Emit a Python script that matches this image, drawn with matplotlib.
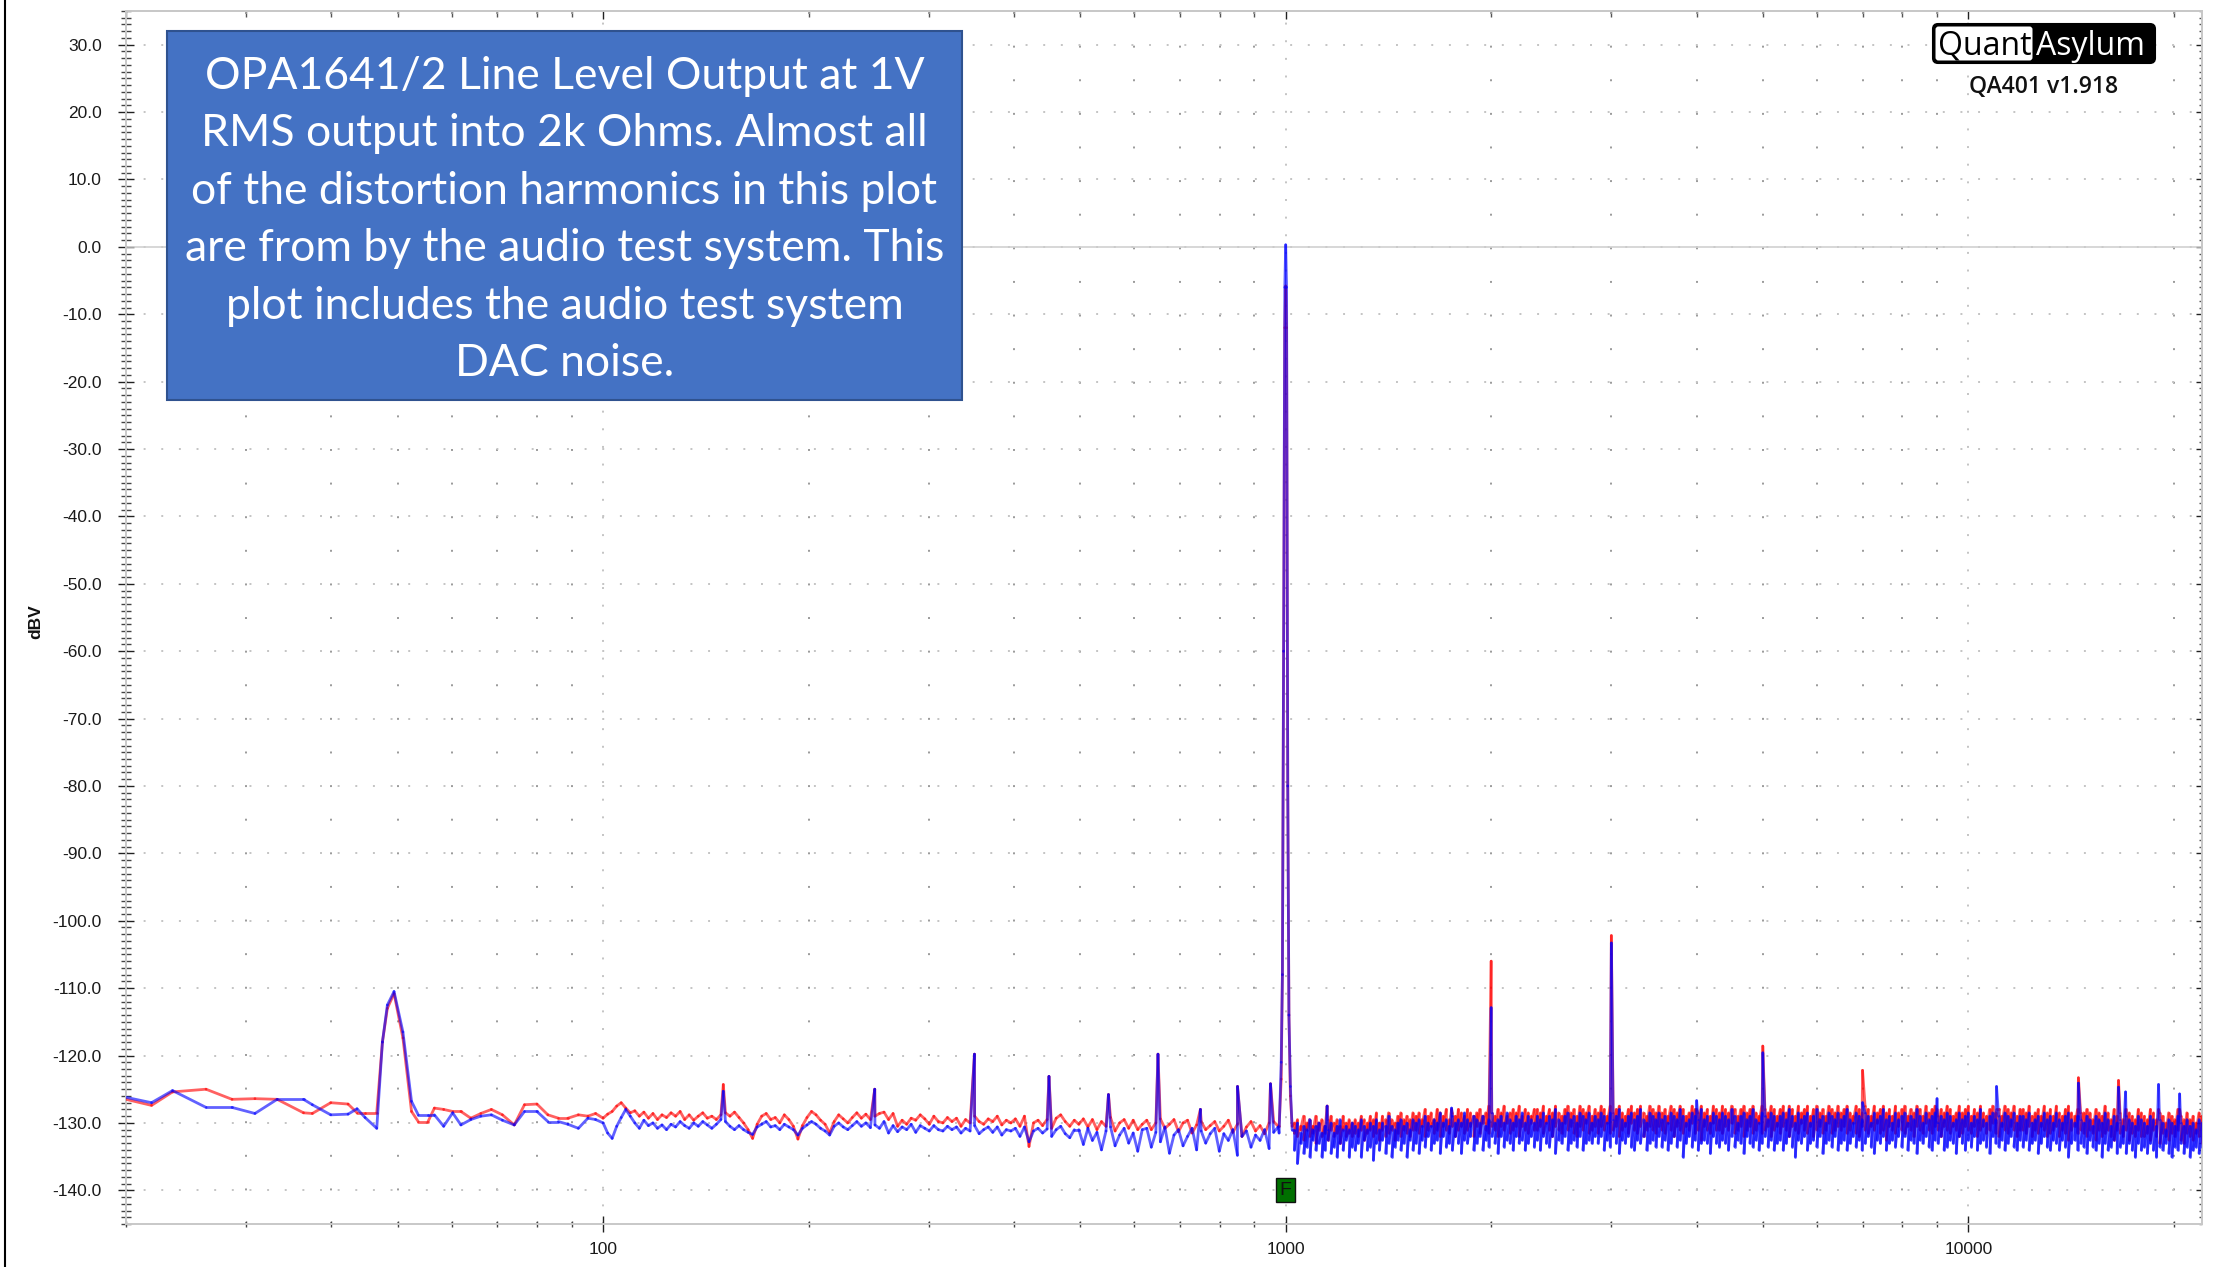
import numpy as np
import matplotlib
matplotlib.use("Agg")
import matplotlib.pyplot as plt
from matplotlib.collections import LineCollection
from matplotlib.patches import Rectangle, FancyBboxPatch
from matplotlib.lines import Line2D
from matplotlib.transforms import IdentityTransform
from matplotlib.ticker import FixedLocator, MultipleLocator, NullFormatter, FuncFormatter

plt.rcParams['axes.unicode_minus'] = False
plt.rcParams['lines.scale_dashes'] = False
plt.rcParams['font.family'] = ['Liberation Sans', 'DejaVu Sans']

# ---- data (dBV vs Hz) ----
# low end, 20 Hz .. 100 Hz incl. the 50 Hz hum hump
lf_freq = [20.0, 21.8, 23.4, 26.2, 28.6, 30.9, 33.3, 36.4, 37.5, 39.9,
           42.3, 43.6, 44.8, 46.6, 47.5, 48.3, 49.4, 50.9, 52.4, 53.6,
           55.4, 56.6, 58.4, 60.2, 61.9, 64.0, 66.2, 68.6, 71.2, 74.1,
           76.7, 80.0, 83.0, 86.0, 88.8, 92.0, 95.0, 97.5]
lf_red = [-126.5, -127.4, -125.4, -125.0, -126.5, -126.4, -126.5, -128.5, -128.6, -127.0,
          -127.2, -128.5, -128.5, -128.5, -118.0, -113.0, -110.8, -117.4, -128.3, -129.8,
          -129.8, -127.8, -128.0, -128.3, -128.3, -129.3, -128.6, -128.0, -128.8, -130.3,
          -127.3, -127.2, -128.8, -129.3, -129.3, -128.8, -129.0, -128.6]
lf_blue = [-126.2, -127.0, -125.2, -127.7, -127.7, -128.6, -126.5, -126.5, -127.3, -128.8,
           -128.7, -127.9, -129.2, -130.8, -118.0, -112.5, -110.5, -116.5, -126.8, -128.8,
           -128.8, -128.8, -130.5, -128.5, -130.3, -129.5, -129.0, -128.8, -129.6, -130.3,
           -128.3, -128.3, -129.8, -129.8, -130.2, -130.8, -129.3, -129.5]

# 100 Hz .. 975 Hz noise floor (log spaced readings)
mid_range = (100, 975)
mid_red = [
    -129.3, -128.7, -128.3, -127.5, -127.0, -127.8, -128.5, -128.2, -129.0, -128.4, -129.3, -128.6, -129.5, -128.8, -129.2,
    -128.5, -129.0, -128.3, -129.5, -128.8, -129.6, -129.0, -128.5, -129.3, -129.0, -129.5, -128.8, -128.5, -129.0, -128.4,
    -129.2, -130.0, -131.0, -132.3, -130.2, -129.0, -128.6, -129.5, -129.2, -130.0, -128.8, -129.5, -130.5, -132.4, -130.4,
    -129.2, -128.3, -128.8, -129.6, -130.2, -131.5, -129.8, -128.8, -129.4, -130.0, -129.2, -128.5, -129.3, -128.7, -129.5,
    -129.0, -128.6, -128.4, -129.5, -128.6, -130.5, -129.6, -130.2, -129.3, -129.6, -128.8, -129.4, -130.2, -129.0, -129.8,
    -130.0, -129.2, -129.8, -129.3, -130.5, -129.5, -130.0, -129.0, -129.8, -130.2, -129.4, -129.8, -129.0, -130.3, -129.6,
    -130.0, -129.4, -130.5, -129.0, -133.5, -130.0, -129.6, -130.4, -129.5, -130.8, -129.3, -128.8, -129.8, -130.5, -129.6,
    -130.2, -129.4, -130.6, -129.5, -131.0, -129.8, -130.5, -129.2, -131.2, -130.0, -129.5, -130.8, -129.6, -131.0, -130.2,
    -129.6, -131.0, -130.0, -129.4, -130.8, -130.2, -129.5, -131.3, -130.0, -129.6, -131.5, -130.3, -129.8, -131.0, -130.4,
    -129.8, -131.2, -130.5, -129.6, -131.4, -130.2, -132.0, -130.6, -129.8, -131.2, -130.4, -131.6, -130.0, -129.8, -130.5]
mid_blue = [
    -130.0, -131.5, -132.3, -130.5, -129.2, -128.0, -129.0, -130.0, -130.8, -129.6, -130.4, -130.0, -130.8, -130.3, -131.0,
    -130.2, -130.6, -129.8, -130.4, -130.8, -130.0, -130.5, -129.8, -130.3, -130.8, -130.2, -129.5, -129.8, -130.5, -131.0,
    -130.4, -131.0, -131.4, -131.7, -130.6, -130.2, -129.8, -130.6, -130.4, -131.0, -130.2, -130.6, -131.0, -131.8, -130.8,
    -130.3, -129.8, -130.2, -130.8, -131.2, -131.8, -130.5, -130.0, -130.6, -131.0, -130.4, -129.8, -130.5, -130.0, -130.7,
    -130.3, -130.8, -129.8, -131.5, -130.4, -131.3, -130.6, -131.0, -130.2, -131.4, -130.4, -130.8, -131.2, -130.4, -131.0,
    -131.2, -130.5, -131.0, -130.6, -131.5, -130.8, -131.2, -130.4, -131.6, -131.0, -130.6, -131.4, -130.6, -131.8, -131.0,
    -131.2, -130.8, -132.0, -130.6, -132.8, -131.2, -130.8, -131.5, -130.9, -132.0, -131.0, -130.5, -131.6, -132.2, -131.0,
    -131.0, -133.2, -130.8, -132.6, -131.4, -134.0, -131.2, -130.6, -133.4, -131.8, -130.8, -133.0, -131.5, -134.2, -131.0,
    -130.8, -133.6, -131.4, -132.8, -130.6, -134.5, -131.8, -131.0, -133.4, -132.0, -130.8, -134.0, -131.2, -133.0, -131.6,
    -130.8, -134.2, -131.6, -132.6, -131.0, -134.8, -132.0, -131.2, -133.6, -131.8, -132.6, -131.0, -133.8, -131.4, -130.6]

# 1 kHz fundamental and its skirt
fund_freq = [978, 985, 989, 993, 997, 1000, 1003, 1007, 1011, 1016, 1022]
fund_red = [-130.5, -123.5, -108.0, -60.0, -12.0, -5.8, -12.0, -80.0, -114.0, -126.0, -130.5]
fund_blue = [-131.5, -121.0, -108.0, -60.0, -6.0, 0.3, -6.0, -80.0, -114.0, -124.6, -131.0]

# 1.03 kHz .. 22 kHz: the dense floor, as upper / lower value per display column
hi_range = (1030, 22000)
hi_red_top = [
    -130, -129.5, -130.5, -129, -130, -129.5, -130.5, -129, -130, -129.5, -130.5, -129.5, -129, -130, -129.5, -130.5, -129, -130, -129.5, -130,
    -129.5, -130, -129, -129.5, -130, -129, -129.5, -128.5, -130, -129, -129.5, -128.5, -129.5, -130, -129, -128.5, -129.5, -129, -129.5, -128.5,
    -129, -128.5, -129.5, -128, -129, -128.5, -129.5, -128, -128.5, -129, -128, -129.5, -128.5, -129, -128, -128.5, -129, -128, -128.5, -129,
    -128.5, -128, -129, -128.5, -127.5, -128.5, -129, -128, -128.5, -127.5, -129, -128.5, -128, -128.5, -127.5, -129, -128, -128.5, -129, -128,
    -128, -128.5, -127.5, -129, -128, -128.5, -127.5, -128.5, -129, -128, -127.5, -128.5, -128, -129, -127.5, -128, -128.5, -127.5, -129, -128,
    -128.5, -127.5, -128, -129, -127.5, -128.5, -128, -127.5, -128.5, -129, -128, -127.5, -128.5, -128, -127.5, -128.5, -129, -127.5, -128, -128.5,
    -127.5, -128.5, -128, -129, -127.5, -128, -128.5, -127.5, -128, -129, -128.5, -127.5, -128, -128.5, -127.5, -128.5, -128, -129, -127.5, -128,
    -128.5, -127.5, -128, -128.5, -127.5, -128, -129, -128, -127.5, -128.5, -128, -127.5, -128.5, -129, -127.5, -128, -128.5, -127.5, -128, -129,
    -128, -127.5, -128.5, -127.5, -128, -129, -127.5, -128.5, -128, -127.5, -129, -128, -127.5, -128.5, -128, -129, -127.5, -128, -128.5, -127.5,
    -128.5, -128, -127.5, -128.5, -129, -127.5, -128, -128.5, -127.5, -128, -129, -127.5, -128.5, -128, -127.5, -128.5, -128, -129, -127.5, -128.5,
    -128, -127.5, -129, -128, -128.5, -127.5, -128, -129, -127.5, -128.5, -128, -127.5, -129, -128, -128.5, -127.5, -128, -129, -128.5, -127.5,
    -128.5, -128, -127.5, -129, -128, -128.5, -127.5, -128.5, -129, -128, -127.5, -128.5, -128, -129, -127.5, -128, -128.5, -127.5, -129, -128,
    -128, -128.5, -127.5, -129, -128.5, -128, -129, -127.5, -128.5, -128, -129, -127.5, -128.5, -129, -128, -127.5, -128.5, -129, -128, -128.5,
    -128.5, -128, -128.5, -129.5, -128, -128.5, -129, -127.5, -128.5, -129.5, -128, -129, -128.5, -129.5, -128, -128.5, -129, -129.5, -128, -128.5,
    -129, -129.5, -128, -128.5, -129.5, -128.5, -129, -130, -128.5, -129, -129.5, -128, -129, -129.5, -128.5, -129.5, -129, -130, -128.5, -129]
hi_red_bot = [
    -131.5, -132, -131, -132.5, -131, -132, -131.5, -133, -131, -132, -131.5, -132.5, -131, -132, -131.5, -133, -131, -132, -131.5, -132,
    -131.5, -132, -131, -132.5, -131.5, -131, -132, -131.5, -132.5, -131, -132, -131.5, -131, -132.5, -131.5, -132, -131, -131.5, -132, -131,
    -131, -131.5, -130.5, -132, -131, -130.5, -131.5, -131, -132, -130.5, -131, -131.5, -130.5, -132, -131, -130.5, -131.5, -131, -130.5, -132,
    -130.5, -131.5, -130, -131, -131.5, -130.5, -131, -132, -130.5, -131, -130, -131.5, -131, -130.5, -132, -130.5, -131, -131.5, -130, -131,
    -131, -130.5, -131.5, -130, -131, -132, -130.5, -131, -131.5, -130, -131, -130.5, -131.5, -132, -130.5, -131, -130, -131.5, -131, -130.5,
    -131.5, -130.5, -131, -130, -131.5, -131, -130.5, -132, -131, -130.5, -131.5, -130, -131, -131.5, -130.5, -132, -131, -130.5, -131, -131.5,
    -130.5, -131, -131.5, -130, -131, -132, -130.5, -131, -131.5, -130.5, -131, -130, -131.5, -131, -132.5, -130.5, -131, -131.5, -130, -131,
    -131, -131.5, -130.5, -131, -130, -131.5, -131, -130.5, -132, -131, -130.5, -131.5, -131, -130, -131.5, -131, -130.5, -132, -131, -130.5,
    -131.5, -130.5, -131, -132, -130.5, -131, -131.5, -130, -131, -131.5, -130.5, -132, -131, -130.5, -131.5, -131, -130, -131.5, -131, -130.5,
    -131, -130.5, -131.5, -131, -130, -131.5, -132, -130.5, -131, -131.5, -130.5, -131, -130, -131.5, -131, -132.5, -130.5, -131, -131.5, -130.5,
    -131, -131.5, -130.5, -131, -132, -130.5, -131, -131.5, -130, -131, -131.5, -130.5, -131, -132, -130.5, -131, -131.5, -130.5, -131, -132,
    -131.5, -130.5, -131, -131.5, -130.5, -132, -131, -130.5, -131.5, -131, -130, -131.5, -132, -130.5, -131, -131.5, -130.5, -131, -132, -131,
    -131, -131.5, -130.5, -132, -131, -131.5, -130.5, -131, -132, -131.5, -131, -130.5, -132, -131, -131.5, -132.5, -131, -130.5, -131.5, -131,
    -131.5, -132, -131, -131.5, -132.5, -131, -132, -131.5, -131, -132, -132.5, -131, -131.5, -132, -131, -132.5, -131.5, -132, -131, -132,
    -132, -131.5, -132.5, -131, -132, -133, -131.5, -132, -132.5, -131.5, -132, -131, -132.5, -133, -131.5, -132, -132.5, -131.5, -132, -133]
hi_blue_top = [
    -131, -130, -131.5, -130.5, -131, -129.5, -131, -130.5, -130, -131.5, -130.5, -131, -130, -131.5, -130.5, -129.5, -131, -130.5, -131, -130,
    -130.5, -131, -129.5, -130.5, -131, -130, -130.5, -129.5, -131, -130, -130.5, -129, -130.5, -131, -130, -129.5, -130.5, -130, -131, -129.5,
    -130, -129.5, -130.5, -129, -130, -130.5, -129.5, -130, -128.5, -130, -129.5, -130.5, -129, -130, -129.5, -130, -128.5, -129.5, -130, -129,
    -129.5, -130, -129, -130.5, -129.5, -128.5, -130, -129.5, -129, -130, -128.5, -129.5, -130, -129, -129.5, -128.5, -130, -129, -129.5, -130,
    -129, -129.5, -128.5, -130, -129, -129.5, -128, -129.5, -130, -129, -128.5, -129.5, -129, -130, -128.5, -129, -129.5, -128.5, -130, -129,
    -129.5, -128.5, -129, -130, -128.5, -129.5, -129, -128, -129.5, -130, -129, -128.5, -129.5, -129, -128, -129.5, -130, -128.5, -129, -129.5,
    -128.5, -129.5, -129, -130, -128.5, -129, -129.5, -128, -129, -130, -129.5, -128.5, -129, -129.5, -128, -129.5, -129, -130, -128.5, -129,
    -129.5, -128.5, -129, -129.5, -128, -129, -130, -129, -128.5, -129.5, -129, -128, -129.5, -130, -128.5, -129, -129.5, -128.5, -129, -130,
    -129, -128.5, -129.5, -128, -129, -130, -128.5, -129.5, -129, -128.5, -130, -129, -128, -129.5, -129, -130, -128.5, -129, -129.5, -128.5,
    -129.5, -129, -128, -129.5, -130, -128.5, -129, -129.5, -128.5, -129, -130, -128.5, -129.5, -129, -128, -129.5, -129, -130, -128.5, -129.5,
    -129, -128.5, -130, -129, -129.5, -128, -129, -130, -128.5, -129.5, -129, -128.5, -130, -129, -129.5, -128.5, -129, -130, -129.5, -128.5,
    -129.5, -129, -128.5, -130, -129, -129.5, -128, -129.5, -130, -129, -128.5, -129.5, -129, -130, -128.5, -129, -129.5, -128.5, -130, -129,
    -129, -129.5, -128.5, -130, -129.5, -129, -130, -128.5, -129.5, -129, -130, -128.5, -129.5, -130, -129, -128.5, -129.5, -130, -129, -129.5,
    -130, -129, -129.5, -130.5, -129, -129.5, -130, -128.5, -129.5, -130.5, -129, -130, -129.5, -130.5, -129, -129.5, -130, -130.5, -129, -129.5,
    -130, -130.5, -129, -129.5, -130.5, -129.5, -130, -131, -129.5, -130, -130.5, -129, -130, -130.5, -129.5, -130.5, -130, -131, -129.5, -130]
hi_blue_bot = [
    -134, -136, -133, -134.5, -133.5, -135, -132.5, -134, -133, -135, -134, -132.5, -134.5, -133.5, -135, -133, -134, -132.5, -135, -133.5,
    -134, -133, -135, -132.5, -134, -133.5, -135.5, -133, -134, -132.5, -134.5, -133, -135, -133.5, -132.5, -134, -133, -135, -132.5, -134,
    -133, -134.5, -132.5, -133.5, -132, -134, -133, -132.5, -134.5, -132, -133.5, -133, -134, -132, -133, -134.5, -132.5, -133, -132, -134,
    -133, -132, -134, -132.5, -133.5, -132, -133, -134.5, -132, -133.5, -132.5, -133, -134, -132, -133, -132.5, -134, -133, -132, -133.5,
    -132.5, -134, -132, -133, -133.5, -132, -134.5, -132.5, -133, -132, -134, -133, -132.5, -133.5, -132, -134, -133, -132.5, -133, -132,
    -133, -132, -134, -132.5, -133.5, -132, -133, -134.5, -132.5, -133, -132, -133.5, -134, -132.5, -133, -132, -134, -133, -132.5, -133.5,
    -132, -133.5, -132.5, -134, -133, -132, -133.5, -132.5, -135, -133, -132, -133.5, -132.5, -134, -133, -132.5, -133, -134.5, -132, -133,
    -133.5, -132.5, -133, -134, -132, -133.5, -132.5, -133, -134.5, -132, -133, -133.5, -132.5, -134, -133, -132, -133.5, -132.5, -134, -133,
    -132.5, -134, -133, -132, -133.5, -135, -132.5, -133, -132, -134, -133, -132.5, -133.5, -132, -134.5, -133, -132.5, -133.5, -132, -134,
    -133, -132.5, -134, -133, -132, -133.5, -132.5, -134, -133, -132, -133.5, -134.5, -132.5, -133, -132, -134, -133, -132.5, -133.5, -132,
    -133.5, -132, -134, -132.5, -133, -134.5, -132.5, -133, -132, -133.5, -134, -132.5, -133, -132, -134, -133.5, -132.5, -133, -134.5, -132,
    -133, -134, -132.5, -133.5, -132, -134, -133, -132.5, -133.5, -134.5, -132, -133, -133.5, -132.5, -134, -133, -132, -133.5, -134, -132.5,
    -133.5, -132.5, -134, -133, -132.5, -134.5, -133, -132, -133.5, -134, -132.5, -133, -134, -132.5, -133.5, -135, -133, -132.5, -134, -133,
    -133.5, -134.5, -132.5, -133.5, -134, -133, -135, -133, -134, -133.5, -132.5, -134.5, -133.5, -133, -134.5, -133, -134, -135, -133, -134,
    -133.5, -134.5, -133, -134, -135, -133.5, -134, -133, -134.5, -135, -133.5, -134, -133, -134.5, -133.5, -135, -134, -133.5, -134.5, -133.5]

# hum / harmonic spurs (peak levels)
spike_freq = [150, 250, 350, 450, 550, 650, 750, 850, 950, 1150, 1750, 2000,
              3000, 4000, 5000, 7000, 9000, 11000, 14500, 16600, 17000, 19000, 20400]
spike_red = [-124.3, -125.0, -119.8, -123.1, -125.8, -119.8, -128.0, -124.6, -124.2, -127.5, -128.0, -106.0,
             -102.2, -128.0, -118.6, -122.2, -128.0, -128.0, -123.3, -123.7, -128.0, -128.0, -128.0]
spike_blue = [-125.3, -125.0, -119.8, -123.1, -125.8, -119.8, -128.0, -124.6, -124.2, -127.5, -127.8, -112.9,
              -103.3, -126.7, -119.6, -127.0, -126.4, -124.6, -124.1, -124.7, -125.4, -124.3, -125.7]

box_lines = ["OPA1641/2 Line Level Output at 1V",
             "RMS output into 2k Ohms. Almost all",
             "of the distortion harmonics in this plot",
             "are from by the audio test system. This",
             "plot includes the audio test system",
             "DAC noise."]

W, H = 2216, 1267
fig = plt.figure(figsize=(W / 100, H / 100), dpi=100)
ax = fig.add_axes([126 / W, 1 - 1224 / H, 2076 / W, 1213 / H])
ax.set_xscale('log')
ax.set_xlim(20, 22000)
ax.set_ylim(-145, 35)


def trace(lf, mid, fund, top, bot, spikes, color):
    n = min(len(top), len(bot))
    hi_f = np.repeat(np.geomspace(hi_range[0], hi_range[1], n), 2)
    hi_v = np.column_stack([top[:n], bot[:n]]).ravel()
    f = np.concatenate([lf_freq,
                        np.geomspace(mid_range[0], mid_range[1], len(mid)),
                        fund_freq, hi_f, spike_freq])
    v = np.concatenate([lf, mid, fund, hi_v, spikes])
    o = np.argsort(f, kind='stable')
    pts = np.column_stack([f[o], v[o]])
    segs = np.stack([pts[:-1], pts[1:]], axis=1)
    lc = LineCollection(segs, colors=color, linewidths=2.0, alpha=0.62,
                        capstyle='round', zorder=3)
    ax.add_collection(lc)


trace(lf_red, mid_red, fund_red, hi_red_top, hi_red_bot, spike_red, '#ff0000')
trace(lf_blue, mid_blue, fund_blue, hi_blue_top, hi_blue_bot, spike_blue, '#0000ff')

# grid: dotted like the QA401 UI
dots = (0, (1.4, 11.3))
ax.grid(True, which='major', axis='both', color='#c4c4c4', lw=1.4, linestyle=dots)
ax.grid(True, which='minor', axis='x', color='#9a9a9a', lw=1.4, linestyle=(0, (1.4, 22.8)))
ax.set_axisbelow(True)
ax.axhline(0, color='#cdcdcd', lw=1.1, zorder=1)

minor_x = [m * d for d in (10, 100, 1000) for m in range(2, 10)] + [20000]
ax.xaxis.set_major_locator(FixedLocator([100, 1000, 10000]))
ax.xaxis.set_minor_locator(FixedLocator(minor_x))
ax.xaxis.set_major_formatter(FuncFormatter(lambda v, p: f"{v:.0f}"))
ax.xaxis.set_minor_formatter(NullFormatter())
ax.yaxis.set_major_locator(MultipleLocator(10))
ax.yaxis.set_minor_locator(MultipleLocator(1))
ax.yaxis.set_major_formatter(FuncFormatter(lambda v, p: f"{round(v, 1) + 0.0:.1f}"))

ax.tick_params(axis='y', which='major', direction='inout', length=11, width=1.0,
               color='#222222', pad=12, labelsize=12.5, labelcolor='#1a1a1a', right=False)
ax.tick_params(axis='y', which='minor', direction='inout', length=7, width=1.0,
               color='#444444', right=False)
ax.tick_params(axis='x', which='major', direction='inout', length=12, width=1.0,
               color='#222222', pad=7, labelsize=12.5, labelcolor='#1a1a1a', top=False)
ax.tick_params(axis='x', which='minor', direction='inout', length=5, width=1.0,
               color='#444444', top=False)
for s in ax.spines.values():
    s.set_color('#c8c8c8')
    s.set_linewidth(1.4)

secx = ax.secondary_xaxis('top')
secx.xaxis.set_major_locator(FixedLocator([100, 1000, 10000]))
secx.xaxis.set_minor_locator(FixedLocator(minor_x))
secx.xaxis.set_major_formatter(NullFormatter())
secx.xaxis.set_minor_formatter(NullFormatter())
secx.tick_params(which='major', direction='in', length=6, width=1.0, color='#222222')
secx.tick_params(which='minor', direction='in', length=4, width=1.0, color='#555555')
secy = ax.secondary_yaxis('right')
secy.yaxis.set_major_locator(MultipleLocator(10))
secy.yaxis.set_minor_locator(MultipleLocator(1))
secy.yaxis.set_major_formatter(NullFormatter())
secy.tick_params(which='major', direction='in', length=4, width=1.0, color='#222222')
secy.tick_params(which='minor', direction='in', length=2.5, width=1.0, color='#555555')
for sa in (secx, secy):
    for s in sa.spines.values():
        s.set_color('#c8c8c8')
        s.set_linewidth(1.4)

fig.text(36 / W, 1 - 622 / H, 'dBV', rotation=90, fontsize=12.5, fontweight='bold',
         ha='center', va='center', color='#111111')

# green marker on the fundamental
ax.text(1000, -140, 'F', ha='center', va='center', fontsize=14, color='#111111', zorder=5,
        bbox=dict(boxstyle='square,pad=0.18', fc='#007000', ec='#111111', lw=1))

# left screenshot border
fig.add_artist(Line2D([5 / W, 5 / W], [0, 1], color='black', lw=1.5, transform=fig.transFigure))

# annotation box
fig.add_artist(Rectangle((167 / W, 1 - 400 / H), 795 / W, 369 / H, transform=fig.transFigure,
                         fc='#4472C4', ec='#2F528F', lw=1.5, zorder=4))
for i, line in enumerate(box_lines):
    fig.text(564.5 / W, 1 - (89 + 57.4 * i) / H, line, ha='center', va='baseline',
             color='white', fontsize=32, family=['Lato', 'DejaVu Sans'], zorder=5)

# QuantAsylum logo
pix = IdentityTransform()
fig.add_artist(FancyBboxPatch((1933, H - 63), 222, 39, boxstyle='round,pad=0,rounding_size=5',
                              transform=pix, fc='black', ec='black', lw=1.5, zorder=4))
fig.add_artist(FancyBboxPatch((1935.5, H - 60.5), 97, 34, boxstyle='round,pad=0,rounding_size=3',
                              transform=pix, fc='white', ec='none', zorder=4))
fig.text(1938 / W, 1 - 55 / H, 'Quant', fontsize=23, color='black', va='baseline', ha='left',
         family=['Open Sans', 'DejaVu Sans'], zorder=5)
fig.text(2036 / W, 1 - 55 / H, 'Asylum', fontsize=23, color='white', va='baseline', ha='left',
         family=['Open Sans', 'DejaVu Sans'], zorder=5)
fig.text(2044 / W, 1 - 93 / H, 'QA401 v1.918', fontsize=16.5, color='#111111', va='baseline',
         ha='center', fontweight='semibold', family=['Open Sans', 'DejaVu Sans'], zorder=5)

fig.savefig('out.png', dpi=100)
